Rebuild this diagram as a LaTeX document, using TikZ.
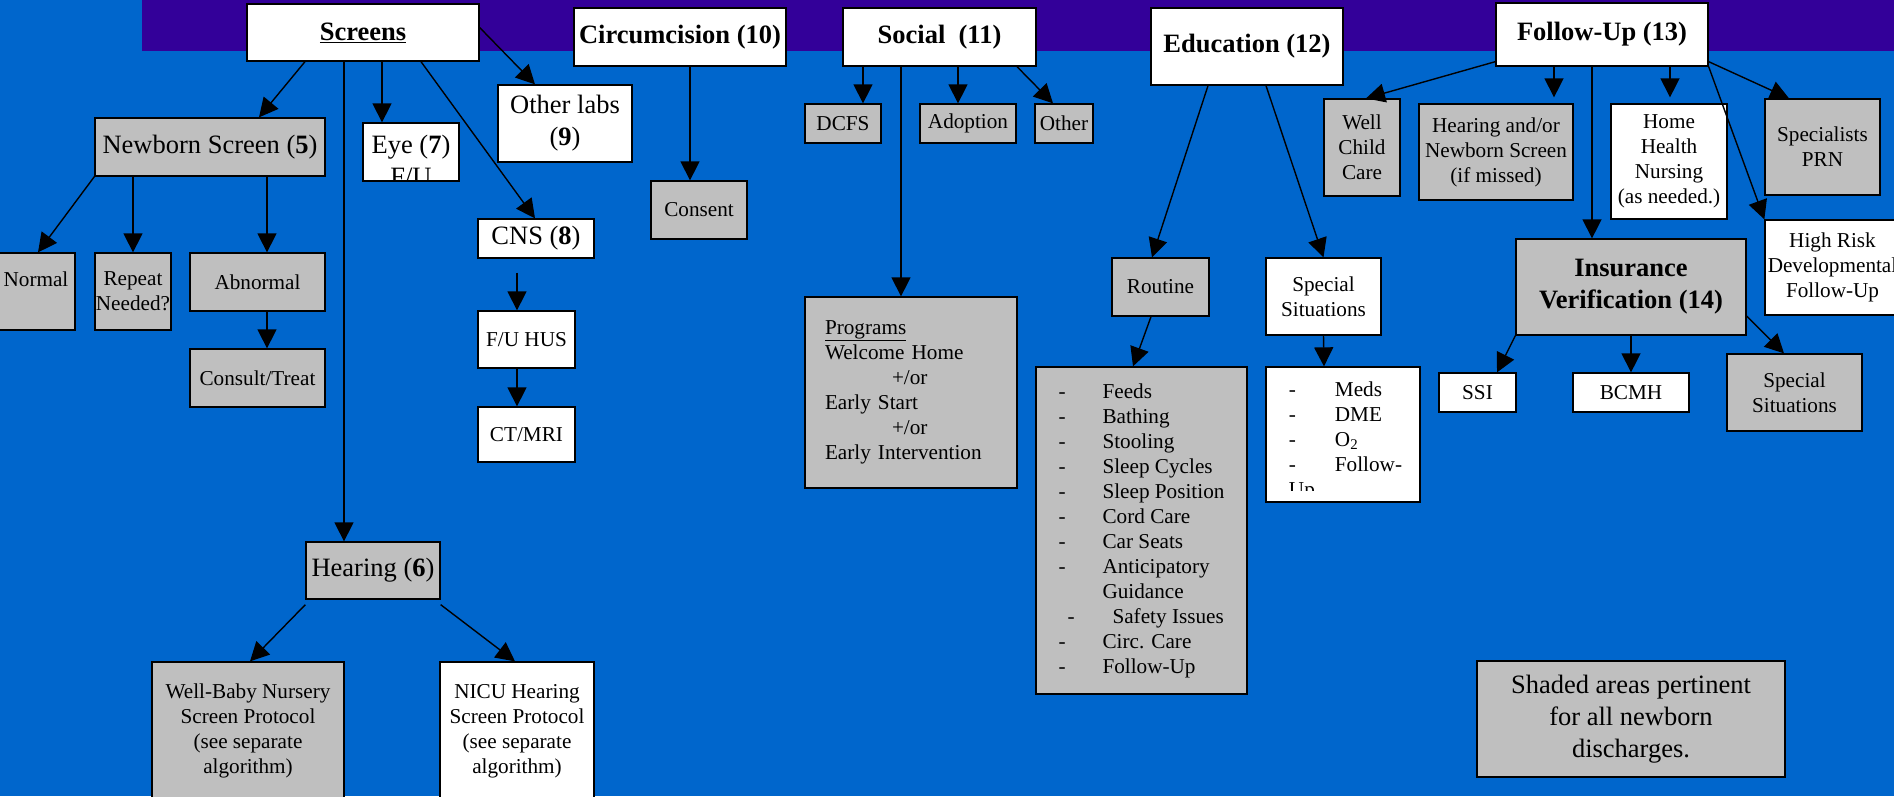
\documentclass[tikz,border=0pt]{standalone}
\usepackage{fontspec}
\setmainfont{Liberation Serif}
\usepackage{tikz}
\usetikzlibrary{arrows.meta}
\newcommand{\bigtxt}{\fontsize{26.5}{32}\selectfont}
\newcommand{\smalltxt}{\fontsize{21.2}{25}\selectfont}
\newcommand{\dashitem}[1]{\makebox[44pt][l]{-}#1}

\begin{document}
\begin{tikzpicture}[x=1pt,y=-1pt,
  box/.style={draw=black,line width=1.3pt,inner sep=1pt,align=center,font=\smalltxt},
  gbox/.style={box,fill=shade},
  wbox/.style={box,fill=white},
  big/.style={font=\bigtxt},
  arr/.style={line width=1.4pt,-{Triangle[length=19pt,width=19pt]}}]

\definecolor{backblue}{rgb}{0,0.4,0.8}
\definecolor{bandpurple}{rgb}{0.2,0,0.6}
\definecolor{shade}{rgb}{0.75,0.75,0.75}
\useasboundingbox (0,0) rectangle (1894,796);
\clip (0,0) rectangle (1894,796);
\fill[backblue] (0,0) rectangle (1894,796);
\fill[bandpurple] (142,0) rectangle (1894,51);

% screens
\node[wbox,big,minimum width=232pt,minimum height=57pt] (screens) at (363,32.5) {\textbf{\underline{Screens}}};
\node[gbox,big,minimum width=230pt,minimum height=58pt] (newborn) at (210,147) {Newborn Screen (\textbf{5})};
\node[wbox,minimum width=96pt,minimum height=58pt] (eye) at (411,152) {};
\begin{scope}
\clip (eye.north west) rectangle (eye.south east);
\node[font=\bigtxt,align=center] (eyetext) at ([yshift=-8pt]eye.center) {Eye (\textbf{7})\\F/U};
\end{scope}
\node[wbox,big,minimum width=134pt,minimum height=77pt] (otherlabs) at (565,123.5) {Other labs\\(\textbf{9})};
\node[wbox,big,minimum width=116pt,minimum height=39pt] (cns) at (536,238.5) {CNS (\textbf{8})};
\node[wbox,minimum width=97pt,minimum height=57pt] (fuhus) at (526.5,339.5) {F/U HUS};
\node[wbox,minimum width=97pt,minimum height=55pt] (ctmri) at (526.5,434.5) {CT/MRI};
\node[gbox,minimum width=78pt,minimum height=77pt] (normal) at (36,291.5) {Normal\\~};
\node[gbox,minimum width=76pt,minimum height=77pt] (repeat) at (133,291.5) {Repeat\\Needed?};
\node[gbox,minimum width=135pt,minimum height=58pt] (abnormal) at (257.5,282) {Abnormal};
\node[gbox,minimum width=135pt,minimum height=58pt] (consult) at (257.5,378) {Consult/Treat};
\node[gbox,big,minimum width=134pt,minimum height=57pt] (hearing) at (373,570.5) {Hearing (\textbf{6})};
\node[gbox,minimum width=192pt,minimum height=138pt] (wellbaby) at (248,731) {Well-Baby Nursery\\Screen Protocol\\(see separate\\algorithm)};
\node[wbox,minimum width=154pt,minimum height=138pt] (nicu) at (517,731) {NICU Hearing\\Screen Protocol\\(see separate\\algorithm)};

% circumcision and social
\node[wbox,big,minimum width=212pt,minimum height=58pt] (circ) at (680,37) {\textbf{Circumcision (10)}};
\node[gbox,minimum width=96pt,minimum height=58pt] (consent) at (699,210) {Consent};
\node[wbox,big,minimum width=193pt,minimum height=58pt] (social) at (939.5,37) {\textbf{Social~~(11)}};
\node[gbox,minimum width=76pt,minimum height=39pt] (dcfs) at (843,123.5) {DCFS};
\node[gbox,minimum width=96pt,minimum height=39pt] (adoption) at (968,123.5) {Adoption};
\node[gbox,minimum width=58pt,minimum height=39pt] (other) at (1064,123.5) {Other};
\node[gbox,minimum width=212pt,minimum height=191pt,align=left,text width=172pt,inner xsep=20pt] (programs) at (911,392.5)
  {\underline{Programs}\\Welcome Home\\\hspace*{67pt}+/or\\Early Start\\\hspace*{67pt}+/or\\Early Intervention};

% education
\node[wbox,big,minimum width=192pt,minimum height=77pt] (edu) at (1247,46.5) {\textbf{Education (12)}};
\node[gbox,minimum width=97pt,minimum height=58pt] (routine) at (1160.5,287) {Routine};
\node[gbox,minimum width=211pt,minimum height=327pt,align=left] (routinelist) at (1141.5,530.5)
  {\dashitem{Feeds}\\\dashitem{Bathing}\\\dashitem{Stooling}\\\dashitem{Sleep Cycles}\\\dashitem{Sleep Position}\\
   \dashitem{Cord Care}\\\dashitem{Car Seats}\\\dashitem{Anticipatory}\\\hspace*{44pt}Guidance\\
   \hspace*{9pt}\makebox[45pt][l]{-}Safety Issues\\\dashitem{Circ. Care}\\\dashitem{Follow-Up}};
\node[wbox,minimum width=115pt,minimum height=77pt] (special) at (1323.5,296.5) {Special\\Situations};
\node[wbox,minimum width=154pt,minimum height=135pt] (speciallist) at (1343,434.5) {};
\begin{scope}
\clip (speciallist.north west) rectangle ([yshift=12pt]speciallist.south east);
\node[font=\smalltxt,align=left] (speciallines) at ([xshift=2.5pt,yshift=-7pt]speciallist.center)
  {\makebox[46pt][l]{-}Meds\\\makebox[46pt][l]{-}DME\\\makebox[46pt][l]{-}O\textsubscript{2}\\\makebox[46pt][l]{-}Follow-\\Up};
\end{scope}

% follow-up
\node[wbox,big,minimum width=212pt,minimum height=63pt] (followup) at (1602,34.5) {\textbf{Follow-Up (13)}};
\node[gbox,minimum width=76pt,minimum height=97pt] (wellchild) at (1362,147.5) {Well\\Child\\Care};
\node[gbox,minimum width=154pt,minimum height=96pt] (hearnb) at (1496,152) {Hearing and/or\\Newborn Screen\\(if missed)};
\node[wbox,minimum width=116pt,minimum height=115pt] (homehealth) at (1669,161.5) {Home\\Health\\Nursing\\(as needed.)};
\node[gbox,minimum width=115pt,minimum height=96pt] (specialists) at (1822.5,147) {Specialists\\PRN};
\node[wbox,minimum width=135pt,minimum height=95pt] (highrisk) at (1832.5,267.5) {High Risk\\Developmental\\Follow-Up};
\node[gbox,big,minimum width=230pt,minimum height=96pt] (insurance) at (1631,287) {\textbf{Insurance}\\\textbf{Verification (14)}};
\node[wbox,minimum width=77pt,minimum height=39pt] (ssi) at (1477.5,392.5) {SSI};
\node[wbox,minimum width=116pt,minimum height=39pt] (bcmh) at (1631,392.5) {BCMH};
\node[gbox,minimum width=135pt,minimum height=77pt] (specialins) at (1794.5,392.5) {Special\\Situations};
\node[gbox,big,minimum width=308pt,minimum height=116pt] (shaded) at (1631,719) {Shaded areas pertinent\\for all newborn\\discharges.};

% arrows
\draw[arr] ([xshift=-58pt]screens.south) -- ([xshift=49pt]newborn.north);
\draw[arr] ([xshift=-19pt]screens.south) -- ([xshift=-29pt]hearing.north);
\draw[arr] ([xshift=19pt]screens.south) -- ([xshift=-29pt]eye.north);
\draw[arr] ([yshift=5pt]screens.east) -- ([xshift=-30pt]otherlabs.north);
\draw[arr] ([xshift=58pt]screens.south) -- ([xshift=-1pt]cns.north);
\draw[arr] (newborn.south west) -- ([xshift=2pt]normal.north);
\draw[arr] ([xshift=-77pt]newborn.south) -- (repeat.north);
\draw[arr] ([xshift=57pt]newborn.south) -- ([xshift=9.5pt]abnormal.north);
\draw[arr] ([xshift=9.5pt]abnormal.south) -- ([xshift=9.5pt]consult.north);
\draw[arr] ([xshift=-19pt,yshift=-14pt]cns.south) -- ([xshift=-9.5pt]fuhus.north);
\draw[arr] ([xshift=-9.5pt]fuhus.south) -- ([xshift=-9.5pt]ctmri.north);
\draw[arr] ([yshift=-5pt]hearing.south west) -- ([xshift=2pt]wellbaby.north);
\draw[arr] ([yshift=-5pt]hearing.south east) -- ([xshift=-2pt]nicu.north);
\draw[arr] ([xshift=10pt]circ.south) -- ([xshift=-9pt]consent.north);
\draw[arr] ([xshift=-76.5pt]social.south) -- ([xshift=20pt]dcfs.north);
\draw[arr] ([xshift=18.5pt]social.south) -- ([xshift=-10pt]adoption.north);
\draw[arr] ([xshift=77.5pt]social.south) -- ([xshift=-11pt]other.north);
\draw[arr] ([xshift=-38.5pt]social.south) -- ([xshift=-10pt]programs.north);
\draw[arr] ([xshift=-39pt]edu.south) -- ([xshift=-8.5pt]routine.north);
\draw[arr] ([xshift=19pt]edu.south) -- (special.north);
\draw[arr] ([xshift=-9.5pt]routine.south) -- ([xshift=-8.5pt]routinelist.north);
\draw[arr] (special.south) -- ([xshift=-19pt]speciallist.north);
\draw[arr] ([yshift=5pt]followup.south west) -- ([xshift=4pt]wellchild.north);
\draw[arr] ([xshift=-48pt]followup.south) -- ([xshift=58pt,yshift=6pt]hearnb.north);
\draw[arr] ([xshift=-10pt]followup.south) -- ([xshift=-39pt]insurance.north);
\draw[arr] ([xshift=68pt]followup.south) -- ([xshift=1pt,yshift=6pt]homehealth.north);
\draw[arr] (followup.south east) -- (highrisk.north west);
\draw[arr] ([yshift=5pt]followup.south east) -- ([xshift=-33.5pt]specialists.north);
\draw[arr] (insurance.south west) -- ([xshift=19.5pt]ssi.north);
\draw[arr] (insurance.south) -- (bcmh.north);
\draw[arr] ([yshift=-29pt]insurance.east) -- ([xshift=-10.5pt]specialins.north);
\end{tikzpicture}
\end{document}
